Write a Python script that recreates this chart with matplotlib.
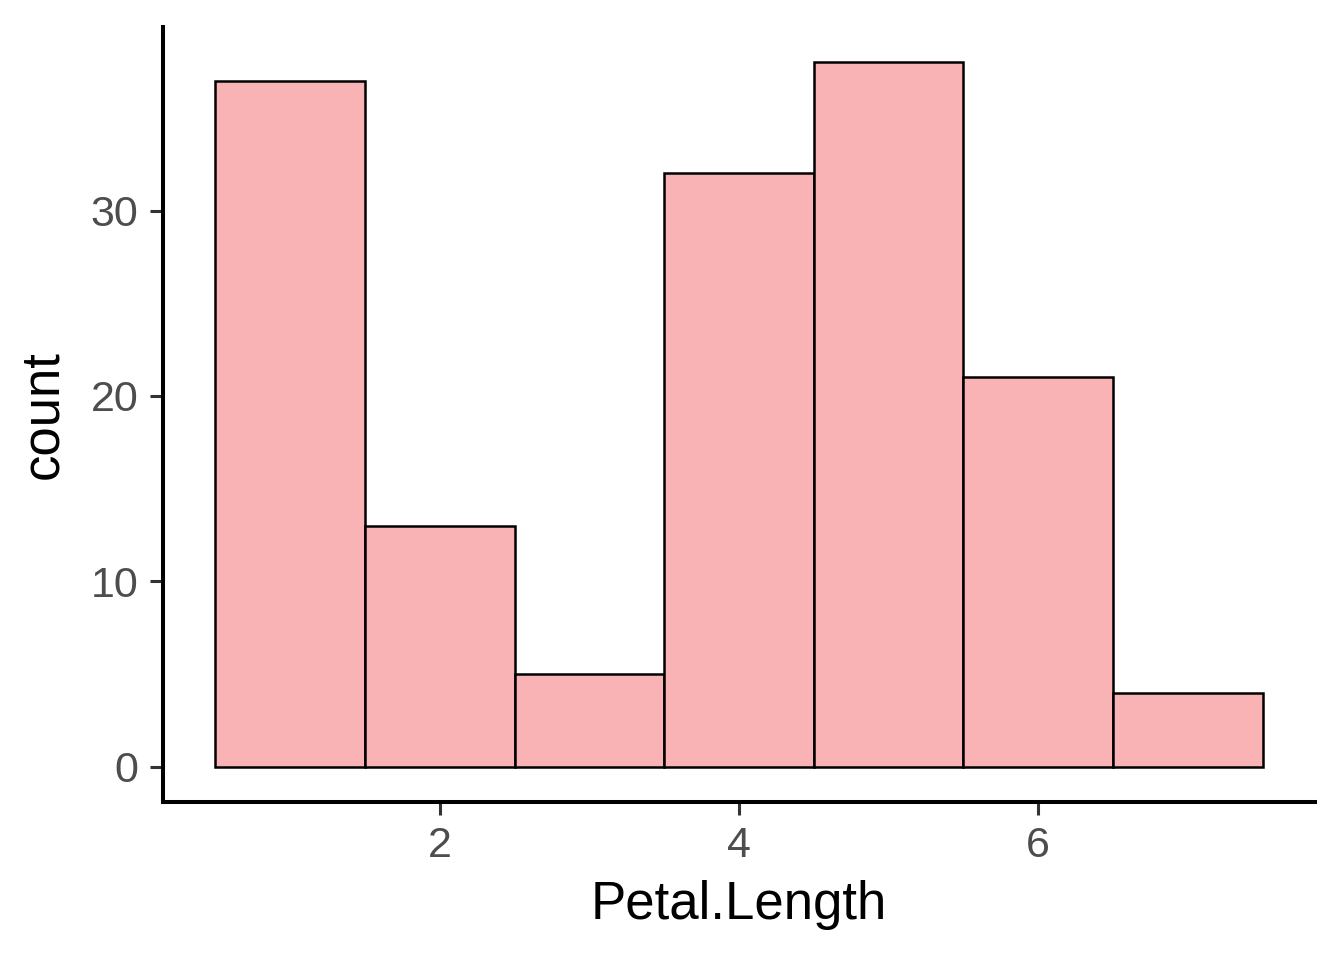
import matplotlib
matplotlib.use("Agg")
import matplotlib.pyplot as plt

bin_centers = [1, 2, 3, 4, 5, 6, 7]
counts = [37, 13, 5, 32, 38, 21, 4]
xticks = [2, 4, 6]
yticks = [0, 10, 20, 30]

plt.rcParams['font.family'] = ['Liberation Sans', 'DejaVu Sans']

fig = plt.figure(figsize=(6.72, 4.8), dpi=200)
ax = fig.add_axes([163/1344, 1-802/960, (1315-163)/1344, (802-27)/960])

ax.bar(bin_centers, counts, width=1.0, color='#FAB3B4', edgecolor='black', linewidth=0.9)

ax.set_xlim(0.15, 7.85)
ax.set_ylim(-1.9, 39.9)
ax.set_xticks(xticks)
ax.set_yticks(yticks)
ax.tick_params(axis='both', direction='out', length=4.8, width=1.1, color='#333333',
               labelcolor='#4D4D4D', labelsize=15.5, pad=4)
for s in ['top', 'right']:
    ax.spines[s].set_visible(False)
for s in ['left', 'bottom']:
    ax.spines[s].set_linewidth(1.45)
    ax.spines[s].set_color('black')
ax.set_xlabel('Petal.Length', fontsize=19, labelpad=5)
ax.set_ylabel('count', fontsize=19, labelpad=8)

fig.savefig('out.png', dpi=200)
